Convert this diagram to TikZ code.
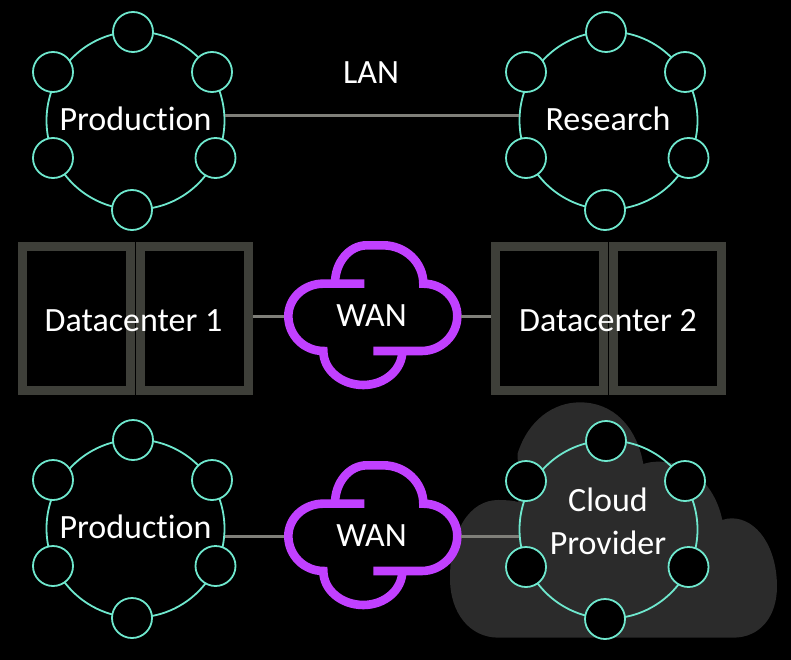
\documentclass[tikz,border=0pt]{standalone}
\usepackage{fontspec}
\setmainfont{Carlito}[Ligatures=NoCommon]
\definecolor{teal1}{HTML}{6FE8CE}
\definecolor{purp}{HTML}{C140FF}
\definecolor{linegray}{HTML}{7F7F79}
\definecolor{boxgray}{HTML}{3E3F39}
\definecolor{cloudgray}{HTML}{2B2B2B}
\tikzset{
  ringnode/.style={circle,draw=teal1,line width=1.8pt,minimum size=178pt,inner sep=0pt},
  hostnode/.style={circle,draw=teal1,line width=1.8pt,fill=black,minimum size=40pt,inner sep=0pt},
  dcbox/.style={rectangle,draw=boxgray,line width=9pt,minimum width=108pt,minimum height=144pt,inner sep=0pt},
  wanbox/.style={rectangle,minimum width=177pt,minimum height=100pt,inner sep=0pt,outer sep=0pt},
  wanline/.style={draw=purp,line width=8.6pt},
  conn/.style={draw=linegray,line width=3pt},
  lbl/.style={text=white,font=\fontsize{34}{36}\selectfont,anchor=base,inner sep=0pt},
}
\newcommand{\netring}[3]{%
  \begin{scope}[shift={(#2,#3)},name prefix=#1-]
    \node[ringnode] (ring) at (135.5,120.5) {};
    \node[hostnode] (h1) at (133,32) {};
    \node[hostnode] (h2) at (212,72) {};
    \node[hostnode] (h3) at (215.5,158) {};
    \node[hostnode] (h4) at (132,210) {};
    \node[hostnode] (h5) at (53,158) {};
    \node[hostnode] (h6) at (53,72) {};
  \end{scope}}
\newcommand{\wancloud}[2]{%
  \begin{scope}[shift={(270,#2)},x=0.3333pt,y=-0.3333pt]
    \path[wanline,line cap=butt] (283,158) -- (160,158)
      .. controls (102,158) and (55,202) .. (55,255)
      .. controls (55,313) and (102,360) .. (160,360)
      .. controls (160,416) and (213,462) .. (280,462)
      .. controls (345,462) and (397,416) .. (397,360);
    \path[wanline,line cap=butt] (310,360) -- (455,360)
      .. controls (513,360) and (562,313) .. (562,255)
      .. controls (562,202) and (518,158) .. (460,158)
      .. controls (460,94) and (405,43) .. (340,43)
      -- (290,43)
      .. controls (238,43) and (195,94) .. (195,158);
  \end{scope}
  \node[wanbox] (#1) at (372.5,#2+85) {};}
\begin{document}
\begin{tikzpicture}[x=1pt,y=-1pt]
\useasboundingbox (0,0) rectangle (791,660);
\fill[black] (0,0) rectangle (791,660);
% provider cloud
\begin{scope}[shift={(440,390)},x=0.3333pt,y=-0.3333pt]
\fill[cloudgray] (175,743) .. controls (90,743) and (30,670) .. (30,565)
  .. controls (30,420) and (90,330) .. (175,330)
  .. controls (200,330) and (220,332) .. (235,336) -- (233,190)
  .. controls (265,90) and (340,37) .. (420,37)
  .. controls (520,37) and (590,110) .. (610,222)
  .. controls (625,217) and (640,215) .. (655,215)
  .. controls (750,215) and (825,285) .. (847,390)
  .. controls (855,387) and (865,385) .. (875,385)
  .. controls (950,385) and (1011,470) .. (1011,590)
  .. controls (1011,680) and (960,743) .. (880,743) -- cycle;
\end{scope}
\netring{prod1}{0}{0}
\netring{res}{473}{0}
\netring{prod2}{0}{408}
\netring{prov}{473}{409}
% datacenters
\node[dcbox] (dc1l) at (76.5,318.5) {};
\node[dcbox] (dc1r) at (194.5,318.5) {};
\node[dcbox] (dc2l) at (549.5,318.5) {};
\node[dcbox] (dc2r) at (667.5,318.5) {};
\wancloud{wan1}{231}
\wancloud{wan2}{451}
% connectors
\coordinate (lanrow) at (371,116);
\path[conn] (prod1-ring.east |- lanrow) -- (res-ring.west |- lanrow);
\path[conn] (dc1r.east |- wan1.west) -- (wan1.west);
\path[conn] (wan1.east) -- (wan1.east -| dc2l.west);
\path[conn] (prod2-ring.east |- wan2.west) -- (wan2.west);
\path[conn] (wan2.east) -- (wan2.east -| prov-ring.west);
% labels
\node[lbl] (tlan) at (371,83.5) {LAN};
\node[lbl] (tp1) at (135.5,130.5) {Production};
\node[lbl] (tr) at (608,130.5) {Research};
\node[lbl] (td1) at (133.5,331.5) {Datacenter 1};
\node[lbl] (td2) at (608,331.5) {Datacenter 2};
\node[lbl] (tw1) at (371.5,326) {WAN};
\node[lbl] (tw2) at (371.5,546) {WAN};
\node[lbl] (tp2) at (135.5,538.5) {Production};
\node[lbl] (tc) at (608,511) {Cloud};
\node[lbl] (tpv) at (608,554) {Provider};
\end{tikzpicture}
\end{document}
